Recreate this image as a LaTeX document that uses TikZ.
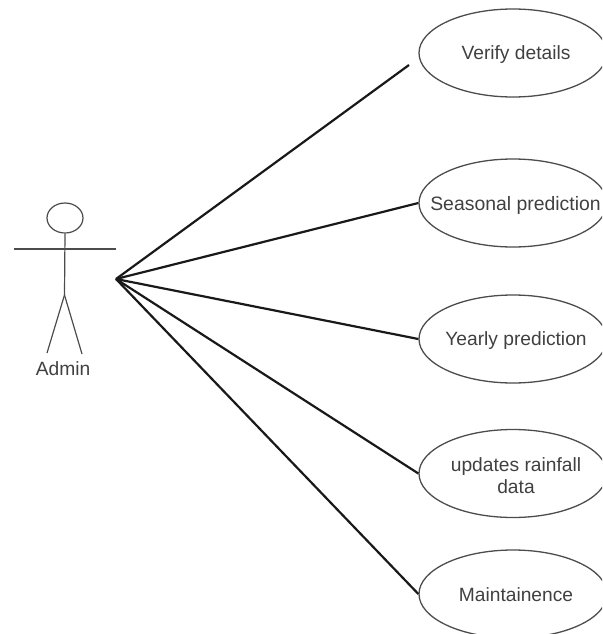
\documentclass[tikz,border=0pt]{standalone}
\usepackage{fontspec}
\setmainfont{Liberation Sans}
\usetikzlibrary{shapes.geometric}
\begin{document}
\begin{tikzpicture}[x=1pt,y=-1pt,
 usecase/.style={ellipse,draw=black!70,line width=1.3pt,inner sep=0pt,minimum width=188pt,minimum height=88pt},
 lbl/.style={font=\fontsize{19.2}{22}\selectfont,text=black!75,align=center,inner sep=0pt},
 actorline/.style={draw=black!70,line width=1.2pt},
 assoc/.style={draw=black!90,line width=2.2pt}]
\useasboundingbox (0,0) rectangle (602,634);
\clip (0,0) rectangle (602,634);
\node[usecase] (u1) at (513,53) {};
\node[lbl] (t1) at (516,55) {Verify details};
\node[usecase] (u2) at (513,203) {};
\node[lbl,font=\fontsize{19.4}{22}\selectfont] (t2) at (515.5,205) {Seasonal prediction};
\node[usecase] (u3) at (513,339) {};
\node[lbl] (t3) at (516,341) {Yearly prediction};
\node[usecase] (u4) at (513,473.5) {};
\node[lbl] (t4) at (516,476) {updates rainfall\\data};
\node[usecase] (u5) at (513,594) {};
\node[lbl] (t5) at (516,595) {Maintainence};
\node[ellipse,draw=black!70,line width=1.2pt,minimum width=36pt,minimum height=30pt,inner sep=0pt] (head) at (65,218) {};
\coordinate (hip) at (64.5,295);
\coordinate (hands) at (116,279);
\coordinate (armL) at (14,249);
\coordinate (armR) at (116,249);
\coordinate (legL) at (47,353);
\coordinate (legR) at (82,354);
\draw[actorline] (head.south) -- (hip);
\draw[actorline] (armL) -- (armR);
\draw[actorline] (hip) -- (legL);
\draw[actorline] (hip) -- (legR);
\node[lbl] (admin) at (63,369) {Admin};
\coordinate (e1) at (409,65);
\draw[assoc] (hands) -- (e1);
\draw[assoc] (hands) -- (u2.west);
\draw[assoc] (hands) -- (u3.west);
\draw[assoc] (hands) -- (u4.west);
\draw[assoc] (hands) -- (u5.west);
\end{tikzpicture}
\end{document}
